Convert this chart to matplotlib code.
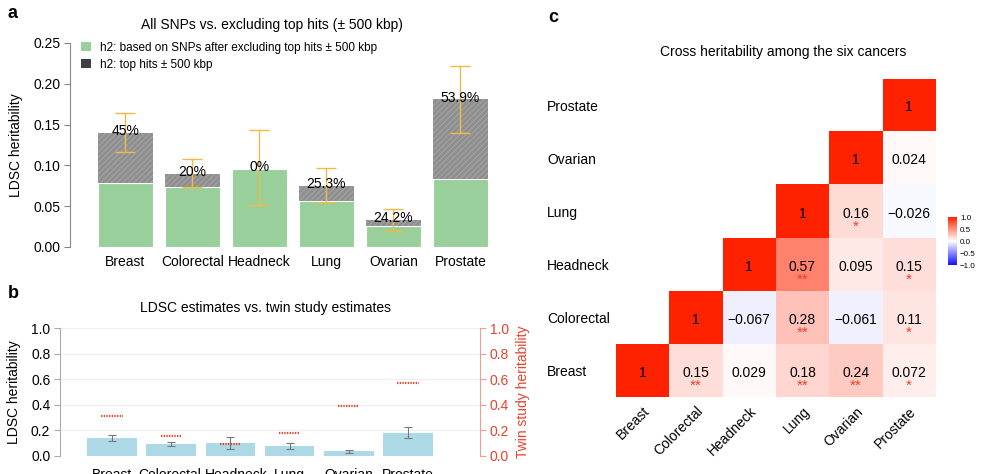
import numpy as np
import matplotlib
matplotlib.use("Agg")
import matplotlib.pyplot as plt
import matplotlib.transforms as mtransforms
from matplotlib.patches import Patch
from matplotlib.colors import LinearSegmentedColormap

plt.rcParams['font.family'] = ['Liberation Sans', 'DejaVu Sans']
plt.rcParams['hatch.linewidth'] = 0.6

# data
cancers = ["Breast", "Colorectal", "Headneck", "Lung", "Ovarian", "Prostate"]
h2_total = [0.140, 0.090, 0.096, 0.075, 0.033, 0.181]
h2_excl = [0.078, 0.073, 0.096, 0.056, 0.026, 0.083]
h2_low = [0.117, 0.074, 0.052, 0.054, 0.020, 0.140]
h2_high = [0.164, 0.108, 0.143, 0.097, 0.046, 0.222]
pct_top = [45, 20, 0, 25.3, 24.2, 53.9]
twin_h2 = [0.31, 0.155, 0.09, 0.18, 0.39, 0.573]

# cross heritability, rows / cols in the order of cancers (Breast first)
rg = [
    [1, 0.15, 0.029, 0.18, 0.24, 0.072],
    [None, 1, -0.067, 0.28, -0.061, 0.11],
    [None, None, 1, 0.57, 0.095, 0.15],
    [None, None, None, 1, 0.16, -0.026],
    [None, None, None, None, 1, 0.024],
    [None, None, None, None, None, 1],
]
rg_stars = [
    ["", "**", "", "**", "**", "*"],
    ["", "", "", "**", "", "*"],
    ["", "", "", "**", "", "*"],
    ["", "", "", "", "*", ""],
    ["", "", "", "", "", ""],
    ["", "", "", "", "", ""],
]

green = '#98cf9b'
gold = '#f3b945'
red = '#e8412c'
W, H = 981, 474

fig = plt.figure(figsize=(9.81, 4.74), dpi=100)

def box(x0, y0, x1, y1):
    # pixel box (top-left origin) -> figure fraction rect
    return [x0 / W, 1 - y1 / H, (x1 - x0) / W, (y1 - y0) / H]

x = np.arange(len(cancers))
total = np.array(h2_total)
excl = np.array(h2_excl)
yerr = np.vstack((total - np.array(h2_low), np.array(h2_high) - total))

# ---------------- panel a
axA = fig.add_axes(box(70, 43, 495, 247))
axA.bar(x, excl, width=0.82, color=green, edgecolor='white', linewidth=0.8)
axA.bar(x, total - excl, bottom=excl, width=0.82, color='#8f8f8f',
        edgecolor='#a9a9a9', linewidth=0, hatch='//////')
axA.errorbar(x, total, yerr=yerr, fmt='none', ecolor=gold, elinewidth=1.0,
             capsize=7.2, capthick=1.0)
for xi, t, p in zip(x, total, pct_top):
    axA.text(xi, t + 0.002, '{:g}%'.format(p), ha='center', va='center', fontsize=10)
axA.set_xlim(-0.828, 5.515)
axA.set_ylim(0, 0.25)
axA.set_yticks([0, 0.05, 0.10, 0.15, 0.20, 0.25])
axA.set_yticklabels(['0.00', '0.05', '0.10', '0.15', '0.20', '0.25'], fontsize=10)
axA.set_xticks(x)
axA.set_xticklabels(cancers, fontsize=10)
axA.tick_params(axis='x', length=0, pad=6)
axA.tick_params(axis='y', length=4, color='#888888', pad=3)
for s in ['top', 'right', 'bottom']:
    axA.spines[s].set_visible(False)
axA.spines['left'].set_color('#888888')
axA.spines['left'].set_linewidth(0.8)
axA.set_ylabel('LDSC heritability', fontsize=10, labelpad=7)
axA.set_title('All SNPs vs. excluding top hits (\u00b1 500 kbp)', fontsize=10, pad=10, x=0.475)
handles = [Patch(facecolor=green, edgecolor='none'), Patch(facecolor='#3f3f3f', edgecolor='none')]
axA.legend(handles, ['h2: based on SNPs after excluding top hits \u00b1 500 kbp',
                     'h2: top hits \u00b1 500 kbp'],
           loc='upper left', bbox_to_anchor=(0.015, 1.03), frameon=False, fontsize=8.5,
           handlelength=0.8, handleheight=0.8, handletextpad=0.8, labelspacing=0.45,
           borderaxespad=0)

# ---------------- panel b
axB = fig.add_axes(box(60, 328.3, 480, 455.7))
axB.bar(x, total, width=0.84, color='#add8e6', edgecolor='none')
axB.errorbar(x, total, yerr=yerr, fmt='none', ecolor='#777777', elinewidth=0.8,
             capsize=2.9, capthick=0.8)
axB.set_xlim(-0.878, 6.216)
axB.set_ylim(0, 1.0)
axB.set_yticks(np.arange(0, 1.01, 0.2))
axB.set_yticklabels(['0.0', '0.2', '0.4', '0.6', '0.8', '1.0'], fontsize=10)
axB.grid(axis='y', color='#eeeeee', linewidth=0.8)
axB.set_axisbelow(True)
axB.set_xticks(x)
axB.set_xticklabels(cancers, fontsize=10)
axB.tick_params(axis='x', length=0, pad=9)
axB.tick_params(axis='y', length=4, color='#aaaaaa', pad=3)
# labels are spread a little in the original so they don't collide
nudge = [0, -1, 6, 0, 0, 0]
for lab, dx in zip(axB.get_xticklabels(), nudge):
    lab.set_transform(lab.get_transform() +
                      mtransforms.ScaledTranslation(dx / 100, 0, fig.dpi_scale_trans))
for s in ['top', 'right', 'bottom']:
    axB.spines[s].set_visible(False)
axB.spines['left'].set_color('#aaaaaa')
axB.spines['left'].set_linewidth(0.8)
axB.set_ylabel('LDSC heritability', fontsize=10, labelpad=7)
axB.set_title('LDSC estimates vs. twin study estimates', fontsize=10, pad=12, x=0.49)

axT = axB.twinx()
axT.set_ylim(0, 1.0)
for xi, t in zip(x, twin_h2):
    axT.plot([xi - 0.18, xi + 0.18], [t, t], linestyle=(0, (0.6, 0.6)), color=red,
             linewidth=1.6, solid_capstyle='butt')
axT.set_yticks(np.arange(0, 1.01, 0.2))
axT.set_yticklabels(['0.0', '0.2', '0.4', '0.6', '0.8', '1.0'], fontsize=10, color=red)
axT.tick_params(axis='y', length=4, color='#f0a090', pad=3)
for s in ['top', 'left', 'bottom']:
    axT.spines[s].set_visible(False)
axT.spines['right'].set_color('#f0a090')
axT.spines['right'].set_linewidth(0.8)
axT.set_ylabel('Twin study heritability', fontsize=10, color=red, labelpad=5)

# ---------------- panel c
cmap = LinearSegmentedColormap.from_list('rg', ['#1010ff', '#ffffff', '#ff2200'])
mat = np.array([[np.nan if v is None else v for v in row] for row in rg], dtype=float)
axC = fig.add_axes(box(616, 78.7, 935.7, 397.3))
img = axC.imshow(np.ma.masked_invalid(mat), cmap=cmap, vmin=-1, vmax=1,
                 origin='lower', aspect='auto')
n = len(cancers)
for r in range(n):
    for c in range(n):
        if np.isnan(mat[r, c]):
            continue
        axC.text(c, r - 0.04, '{:g}'.format(mat[r, c]).replace('-', '\u2212'),
                 ha='center', va='center', fontsize=10)
        if rg_stars[r][c]:
            axC.text(c, r - 0.29, rg_stars[r][c], ha='center', va='center',
                     fontsize=11, color=red)
axC.set_xticks(range(n))
axC.set_xticklabels(cancers, fontsize=10, rotation=45, ha='right', rotation_mode='anchor')
axC.set_yticks(range(n))
axC.set_yticklabels(cancers, fontsize=10)
for lab in axC.get_yticklabels():
    lab.set_horizontalalignment('left')
axC.tick_params(axis='y', length=0, pad=49.7)
axC.tick_params(axis='x', length=0, pad=5)
for s in axC.spines.values():
    s.set_visible(False)
fig.text(783 / W, 1 - 51.7 / H, 'Cross heritability among the six cancers',
         ha='center', va='center', fontsize=10)

cax = fig.add_axes(box(947.7, 217, 957.3, 265))
cb = fig.colorbar(img, cax=cax, ticks=[1.0, 0.5, 0.0, -0.5, -1.0])
cb.outline.set_visible(False)
cb.ax.set_yticklabels(['1.0', '0.5', '0.0', '\u22120.5', '\u22121.0'])
cb.ax.tick_params(length=0, labelsize=5.8, pad=2)

# panel letters
fig.text(8 / W, 1 - 14 / H, 'a', fontsize=13, fontweight='bold', va='center')
fig.text(8 / W, 1 - 294 / H, 'b', fontsize=13, fontweight='bold', va='center')
fig.text(548 / W, 1 - 17 / H, 'c', fontsize=13, fontweight='bold', va='center')

fig.savefig('out.png', dpi=100)
